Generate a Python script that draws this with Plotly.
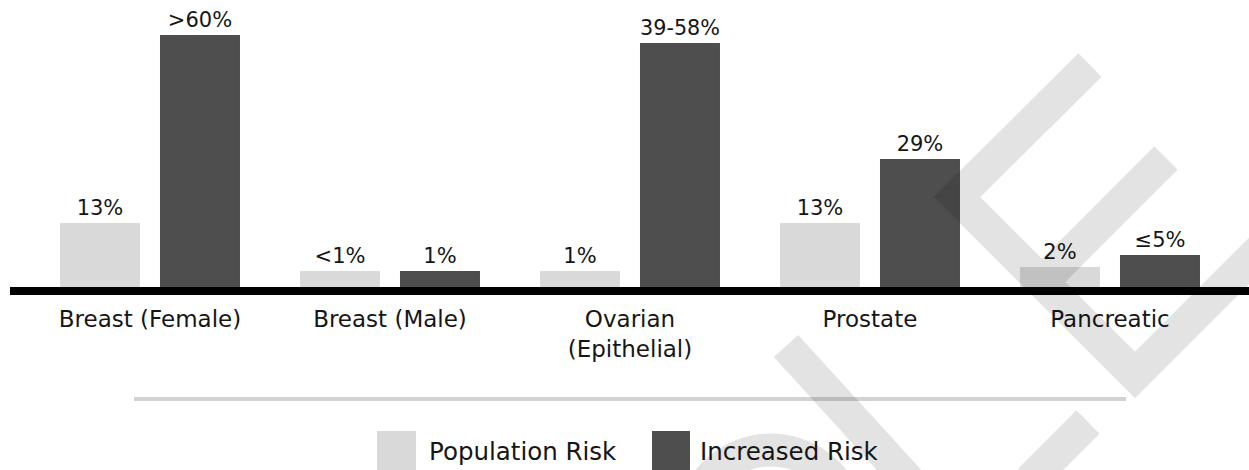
import html
import plotly.graph_objects as go

# ---- data ----
categories = ["Breast (Female)", "Breast (Male)", "Ovarian<br>(Epithelial)", "Prostate", "Pancreatic"]
population_risk = [13, 1, 1, 13, 2]
population_labels = ["13%", "<1%", "1%", "13%", "2%"]
increased_risk = [60, 1, 58, 29, 5]
increased_labels = [">60%", "1%", "39-58%", "29%", "≤5%"]
series_names = ["Population Risk", "Increased Risk"]

# ---- style ----
W, H = 1249, 470
FONT = "DejaVu Sans"
TEXT = "#161616"
LIGHT = "#d9d9d9"
DARK = "#4e4e4e"
MARK = "rgba(0,0,0,0.11)"
BAR_BASE = -3


def px(x):
    return x / W


def py(y):
    return 1 - y / H


fig = go.Figure()
x_idx = list(range(len(categories)))
for name, vals, labels, color in [
    (series_names[0], population_risk, population_labels, LIGHT),
    (series_names[1], increased_risk, increased_labels, DARK),
]:
    fig.add_trace(go.Bar(
        x=x_idx, y=[v - BAR_BASE for v in vals], base=BAR_BASE,
        name=name, marker=dict(color=color, line=dict(width=0)),
        text=[html.escape(t) for t in labels], textposition="outside",
        textfont=dict(family=FONT, size=21, color=TEXT),
        cliponaxis=False, showlegend=False, hoverinfo="skip",
    ))

shapes = []
# heavy baseline under the bars
shapes.append(dict(type="rect", xref="paper", yref="y", x0=px(10), x1=1,
                   y0=BAR_BASE - 2, y1=BAR_BASE, fillcolor="#000000",
                   line=dict(width=0), layer="above"))
# thin separator above the legend
shapes.append(dict(type="line", xref="paper", yref="paper", x0=px(134), x1=px(1126),
                   y0=py(399), y1=py(399), line=dict(color="#d2d2d2", width=4)))

# legend swatches
legend_items = [(377, 416, 427, LIGHT, series_names[0]), (652, 690, 698, DARK, series_names[1])]
annotations = []
for x0, x1, tx, color, name in legend_items:
    shapes.append(dict(type="rect", xref="paper", yref="paper", x0=px(x0), x1=px(x1),
                       y0=py(472), y1=py(431), fillcolor=color, line=dict(width=0)))
    annotations.append(dict(xref="paper", yref="paper", x=px(tx), y=py(451),
                            xanchor="left", yanchor="middle", showarrow=False,
                            text=name, font=dict(family=FONT, size=24.5, color=TEXT)))


# faint background logo strokes (pixel geometry)
def path_from(polys):
    parts = []
    for poly in polys:
        cmd = "M"
        for (a, b) in poly:
            parts.append(f"{cmd}{px(a):.5f},{py(b):.5f}")
            cmd = " L"
        parts.append(" ")
    return "".join(parts).strip()


strokes = [
    [(1090, 65), (957, 197), (1135, 375), (1280, 230)],
    [(1166, 158), (1042, 282)],
    [(1088, 422), (1030, 480)],
    [(786, 346), (910, 482)],
]
shapes.append(dict(type="path", xref="paper", yref="paper", path=path_from(strokes),
                   line=dict(color=MARK, width=33), layer="above"))
# ring of the logo
cx, cy, r = 771, 530, 80
shapes.append(dict(type="circle", xref="paper", yref="paper",
                   x0=px(cx - r), x1=px(cx + r), y0=py(cy + r), y1=py(cy - r),
                   line=dict(color=MARK, width=33), layer="above"))

fig.update_layout(
    width=W, height=H,
    margin=dict(l=0, r=0, t=0, b=0),
    paper_bgcolor="white", plot_bgcolor="white",
    barmode="group", bargap=1 / 6, bargroupgap=0.2,
    shapes=shapes, annotations=annotations,
    showlegend=False,
    xaxis=dict(domain=[px(10), 1], range=[-0.5833, 4.5792], tickmode="array",
               tickvals=x_idx, ticktext=categories, showgrid=False, zeroline=False,
               showline=False, ticks="", automargin=False, ticklabelstandoff=3,
               tickfont=dict(family=FONT, size=23, color=TEXT)),
    yaxis=dict(domain=[py(300), 1], range=[-6.25, 68.75], visible=False,
               showgrid=False, zeroline=False, automargin=False),
    font=dict(family=FONT, color=TEXT),
)

fig.write_html("out.html")
